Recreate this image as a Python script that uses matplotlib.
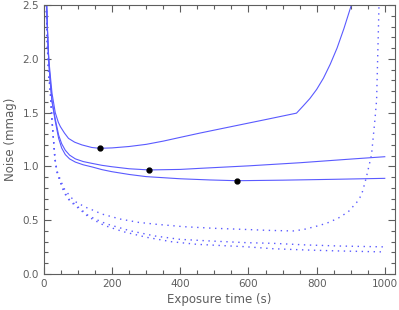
import numpy as np
import matplotlib
matplotlib.use("Agg")
import matplotlib.pyplot as plt
from matplotlib.ticker import MultipleLocator

# Solid curves (exposure time in s, noise in mmag)
a_t = [5, 6, 8, 11, 14, 18, 23.5, 33, 42, 48, 60, 72, 90, 111, 140, 163, 200, 250, 300, 350,
       400, 458, 550, 650, 741, 760, 780, 800, 820, 840, 860, 880, 895, 905, 915]
a_v = [3.1, 2.75, 2.48, 2.2, 2.0, 1.86, 1.68, 1.5, 1.41, 1.37, 1.31, 1.26, 1.225, 1.2, 1.176, 1.168,
       1.172, 1.185, 1.205, 1.235, 1.27, 1.31, 1.37, 1.435, 1.495, 1.56, 1.63, 1.715, 1.82, 1.95,
       2.10, 2.28, 2.43, 2.53, 2.65]
b_t = [5, 6, 8, 11, 14, 18, 23.5, 33, 43, 52, 62.5, 75, 92, 115, 141, 170, 199, 250, 309, 400,
       458, 600, 751, 900, 1000]
b_v = [3.1, 2.75, 2.48, 2.19, 1.98, 1.8, 1.61, 1.44, 1.29, 1.21, 1.15, 1.105, 1.07, 1.045, 1.028,
       1.01, 0.997, 0.978, 0.967, 0.972, 0.982, 1.005, 1.034, 1.068, 1.09]
c_t = [5, 6, 8, 11, 14, 18, 23.5, 33, 43, 52, 62.5, 75, 92, 115, 141, 170, 199, 250, 300, 400,
       487, 566, 700, 850, 1000]
c_v = [3.1, 2.74, 2.47, 2.18, 1.97, 1.79, 1.6, 1.42, 1.26, 1.17, 1.11, 1.07, 1.04, 1.015, 0.995,
       0.97, 0.951, 0.925, 0.905, 0.885, 0.874, 0.867, 0.872, 0.88, 0.889]

# Optimum exposure times (dots)
opt_t = [163, 309, 566]
opt_v = [1.168, 0.967, 0.867]

# Dotted curves
d1_t = [4, 5, 7, 10, 14, 18.5, 23, 28, 32, 38, 45, 50, 60, 77, 92, 121, 150, 169, 190, 223, 277,
        330, 409, 497, 600, 653, 731, 761, 795, 829, 863, 893, 917, 927, 935, 946, 961, 971, 976,
        981, 983, 984]
d1_v = [3.1, 2.8, 2.45, 2.1, 1.85, 1.7, 1.45, 1.24, 1.08, 0.96, 0.9, 0.86, 0.79, 0.72, 0.672,
        0.622, 0.585, 0.558, 0.54, 0.511, 0.48, 0.462, 0.44, 0.425, 0.413, 0.406, 0.4, 0.413,
        0.44, 0.471, 0.518, 0.579, 0.663, 0.71, 0.77, 0.9, 1.106, 1.43, 1.617, 2.237, 2.5, 2.7]
d2_t = [4, 5, 7, 10, 14, 18.5, 23, 28, 32, 38, 45, 50, 60, 75, 92, 131, 165, 184, 252, 326, 399,
        487, 595, 672, 770, 868, 1000]
d2_v = [3.1, 2.8, 2.45, 2.1, 1.85, 1.7, 1.45, 1.24, 1.07, 0.95, 0.885, 0.84, 0.76, 0.69, 0.645,
        0.54, 0.49, 0.465, 0.402, 0.353, 0.322, 0.307, 0.291, 0.285, 0.27, 0.26, 0.252]
d3_t = [4, 5, 7, 10, 14, 18.5, 23, 28, 32, 38, 45, 50, 60, 75, 92, 131, 165, 179, 233, 301, 374,
        448, 516, 589, 672, 770, 868, 1000]
d3_v = [3.1, 2.8, 2.45, 2.1, 1.85, 1.7, 1.45, 1.24, 1.07, 0.95, 0.88, 0.835, 0.75, 0.68, 0.635,
        0.53, 0.47, 0.449, 0.393, 0.341, 0.30, 0.276, 0.265, 0.254, 0.235, 0.223, 0.214, 0.205]

blue = '#5a5aff'
grey = '#5e5e5e'

fig = plt.figure(figsize=(3.99, 3.10), dpi=100)
ax = fig.add_axes([44/399, 1 - 274/310, (395 - 44)/399, (274 - 5)/310])

for t, v in [(a_t, a_v), (b_t, b_v), (c_t, c_v)]:
    ax.plot(t, v, color=blue, lw=0.8)
for t, v in [(d1_t, d1_v), (d2_t, d2_v), (d3_t, d3_v)]:
    ax.plot(t, v, color=blue, lw=1.0, linestyle=(0, (1, 3.3)))
ax.plot(opt_t, opt_v, 'o', color='black', ms=3.5, zorder=5)

ax.set_xlim(0, 1030)
ax.set_ylim(0, 2.5)
ax.xaxis.set_major_locator(MultipleLocator(200))
ax.xaxis.set_minor_locator(MultipleLocator(50))
ax.yaxis.set_major_locator(MultipleLocator(0.5))
ax.yaxis.set_minor_locator(MultipleLocator(0.1))
ax.yaxis.set_major_formatter(matplotlib.ticker.FormatStrFormatter('%.1f'))
ax.tick_params(which='both', direction='in', top=True, right=True, color=grey,
               labelcolor=grey, labelsize=7.5, width=0.8)
ax.tick_params(which='major', length=5)
ax.tick_params(which='minor', length=3.2)
for s in ax.spines.values():
    s.set_color(grey)
    s.set_linewidth(0.8)

ax.set_xlabel('Exposure time (s)', color=grey, fontsize=8.5, labelpad=3)
ax.set_ylabel('Noise (mmag)', color=grey, fontsize=8.5, labelpad=4)

fig.savefig('out.png', dpi=100)
